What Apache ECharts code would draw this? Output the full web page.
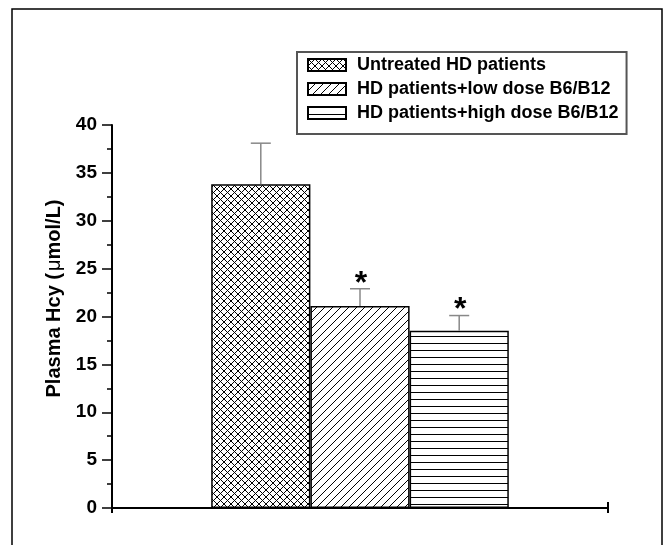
<!DOCTYPE html>
<html>
<head>
<meta charset="utf-8">
<script src="https://cdn.jsdelivr.net/npm/echarts@6/dist/echarts.min.js"></script>
<style>html,body{margin:0;padding:0;background:#fff}#c{width:663px;height:545px}</style>
</head>
<body>
<div id="c"></div>
<script>
// ---- data ----
const categories = ['', 'Untreated HD patients', 'HD patients+low dose B6/B12', 'HD patients+high dose B6/B12', ''];
const seriesNames = ['Untreated HD patients', 'HD patients+low dose B6/B12', 'HD patients+high dose B6/B12'];
const means = [33.8, 21.1, 18.5];
const errUpper = [38.1, 22.9, 20.1];
const significant = [0, 1, 1];
const yMin = 0, yMax = 40, yInterval = 5;

// ---- patterns ----
function makePattern(kind) {
  const c = document.createElement('canvas');
  let w = 7, h = 7;
  if (kind === 'diag') { w = 8; h = 8; }
  if (kind === 'horiz') { w = 4; h = 7; }
  c.width = w; c.height = h;
  const g = c.getContext('2d');
  g.fillStyle = '#fff'; g.fillRect(0, 0, w, h);
  g.strokeStyle = '#000'; g.lineWidth = 1;
  g.beginPath();
  if (kind === 'cross') {
    g.moveTo(-1, -1); g.lineTo(w + 1, h + 1);
    g.moveTo(-1, h + 1); g.lineTo(w + 1, -1);
  } else if (kind === 'diag') {
    g.moveTo(-1, h + 1); g.lineTo(w + 1, -1);
    g.moveTo(-2, 2); g.lineTo(2, -2);
    g.moveTo(w - 2, h + 2); g.lineTo(w + 2, h - 2);
  } else {
    g.moveTo(0, 0.5); g.lineTo(w, 0.5);
  }
  g.stroke();
  return { image: c, repeat: 'repeat' };
}
const patterns = [makePattern('cross'), makePattern('diag'), makePattern('horiz')];

const barSeries = seriesNames.map((name, i) => {
  const d = categories.map(() => null);
  d[i + 1] = means[i];
  return {
    name: name,
    type: 'bar',
    stack: 'all',
    barWidth: '100%',
    data: d,
    itemStyle: { color: patterns[i], borderColor: '#000', borderWidth: 1.5 },
    emphasis: { disabled: true },
    z: 2
  };
});

const errData = means.map((m, i) => [i + 1, m, errUpper[i], significant[i]]);

const FONT = 'Liberation Sans, Arial, sans-serif';
const chart = echarts.init(document.getElementById('c'), null, { renderer: 'canvas' });
chart.setOption({
  animation: false,
  backgroundColor: '#fff',
  textStyle: { fontFamily: FONT },
  grid: { left: 112, right: 55, top: 125, bottom: 37 },
  legend: {
    orient: 'vertical',
    left: 297, top: 52,
    padding: [4, 8, 12, 10],
    borderColor: '#555', borderWidth: 2,
    itemWidth: 38, itemHeight: 12, itemGap: 6,
    selectedMode: false,
    icon: 'rect',
    data: seriesNames,
    textStyle: { fontSize: 18, fontWeight: 'bold', color: '#000', fontFamily: FONT, padding: [0, 0, 0, 6] }
  },
  xAxis: {
    type: 'category',
    data: categories,
    boundaryGap: true,
    axisLine: { lineStyle: { color: '#000', width: 2 } },
    axisTick: { show: false },
    axisLabel: { show: false },
    splitLine: { show: false }
  },
  yAxis: {
    type: 'value',
    min: yMin, max: yMax, interval: yInterval,
    name: '{b|Plasma Hcy (}{n|μ}{b|mol/L)}',
    nameLocation: 'middle',
    nameGap: 48,
    nameRotate: 90,
    nameTextStyle: {
      padding: [0, 0, 0, 36],
      rich: {
        b: { fontSize: 20, fontWeight: 'bold', color: '#000', fontFamily: FONT },
        n: { fontSize: 20, fontWeight: 'normal', color: '#000', fontFamily: FONT, padding: [0, 0, 0, 2] }
      }
    },
    axisLine: { show: true, lineStyle: { color: '#000', width: 2 } },
    axisTick: { show: true, length: 10, lineStyle: { color: '#000', width: 1.5 } },
    minorTick: { show: true, splitNumber: 2, length: 5, lineStyle: { color: '#000', width: 1.5 } },
    axisLabel: { fontSize: 19, fontWeight: 'bold', color: '#000', margin: 15, fontFamily: FONT },
    splitLine: { show: false }
  },
  series: barSeries.concat([
    {
      type: 'custom',
      name: 'err',
      data: errData,
      z: 5,
      silent: true,
      renderItem: function (params, api) {
        const base = api.coord([api.value(0), api.value(1)]);
        const top = api.coord([api.value(0), api.value(2)]);
        const cx = base[0];
        const children = [
          { type: 'line', shape: { x1: cx, y1: base[1], x2: cx, y2: top[1] }, style: { stroke: '#888', lineWidth: 1.5 } },
          { type: 'line', shape: { x1: cx - 10, y1: top[1], x2: cx + 10, y2: top[1] }, style: { stroke: '#888', lineWidth: 1.5 } }
        ];
        if (api.value(3)) {
          children.push({ type: 'text', x: cx + 1, y: top[1] - 5, style: { text: '*', fontSize: 32, fontWeight: 'bold', fill: '#000', align: 'center', verticalAlign: 'middle', fontFamily: FONT } });
        }
        return { type: 'group', children: children };
      }
    },
    {
      type: 'custom',
      name: 'axisEnds',
      data: [[0, 0, -1], [categories.length - 1, 0, 1]],
      z: 6,
      silent: true,
      renderItem: function (params, api) {
        const p = api.coord([api.value(0), api.value(1)]);
        const half = api.size([1, 0])[0] / 2;
        const side = api.value(2);
        const x = p[0] + side * half;
        const y1 = side > 0 ? p[1] - 6 : p[1];
        return { type: 'line', shape: { x1: x, y1: y1, x2: x, y2: p[1] + 5 }, style: { stroke: '#000', lineWidth: 2 } };
      }
    }
  ]),
  graphic: [
    { type: 'rect', shape: { x: 12, y: 9, width: 650, height: 560 }, style: { fill: 'none', stroke: '#000', lineWidth: 1.5 }, silent: true, z: 100 }
  ]
});
</script>
</body>
</html>
